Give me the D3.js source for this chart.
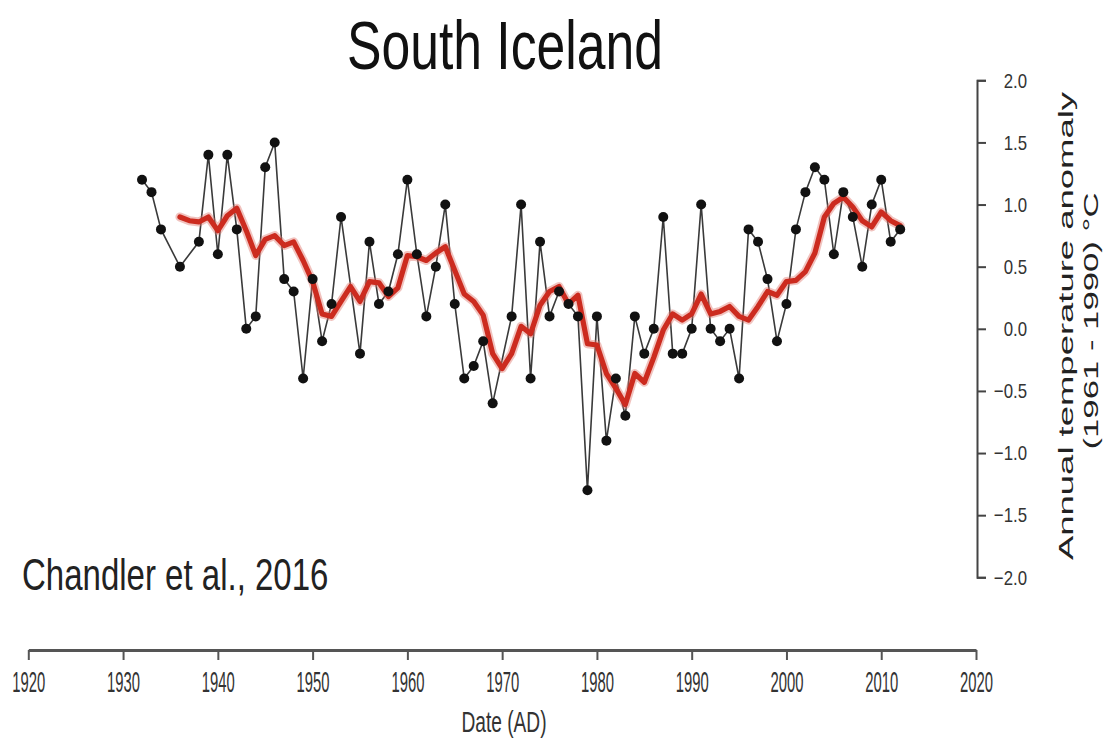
<!DOCTYPE html>
<html><head><meta charset="utf-8">
<script src="https://cdn.jsdelivr.net/npm/d3@7"></script>
<style>body{margin:0;background:#fff}svg{display:block}</style>
</head><body>
<script>
// Annual observations (years with data)
const years = [1932,1933,1934,1936,1938,1939,1940,1941,1942,1943,1944,1945,1946,1947,1948,1949,1950,1951,1952,1953,
  1955,1956,1957,1958,1959,1960,1961,1962,1963,1964,1965,1966,1967,1968,1969,1971,1972,1973,1974,1975,1976,1977,1978,
  1979,1980,1981,1982,1983,1984,1985,1986,1987,1988,1989,1990,1991,1992,1993,1994,1995,1996,1997,1998,1999,2000,
  2001,2002,2003,2004,2005,2006,2007,2008,2009,2010,2011,2012];
const anomalies = [1.2,1.1,0.8,0.5,0.7,1.4,0.6,1.4,0.8,0.0,0.1,1.3,1.5,0.4,0.3,-0.4,0.4,-0.1,0.2,0.9,
  -0.2,0.7,0.2,0.3,0.6,1.2,0.6,0.1,0.5,1.0,0.2,-0.4,-0.3,-0.1,-0.6,0.1,1.0,-0.4,0.7,0.1,0.3,0.2,0.1,
  -1.3,0.1,-0.9,-0.4,-0.7,0.1,-0.2,0.0,0.9,-0.2,-0.2,0.0,1.0,0.0,-0.1,0.0,-0.4,0.8,0.7,0.4,-0.1,0.2,
  0.8,1.1,1.3,1.2,0.6,1.1,0.9,0.5,1.0,1.2,0.7,0.8];
// Running mean (red line)
const meanYears = d3.range(1936, 2013);
const meanValues = [0.90,0.87,0.86,0.90,0.79,0.91,0.97,0.79,0.59,0.72,0.75,0.67,0.70,0.55,0.38,0.12,0.10,0.22,0.34,0.22,
  0.38,0.37,0.26,0.33,0.59,0.58,0.55,0.61,0.66,0.47,0.28,0.22,0.11,-0.20,-0.32,-0.20,0.02,-0.04,0.19,0.30,
  0.34,0.20,0.27,-0.12,-0.13,-0.36,-0.48,-0.61,-0.36,-0.43,-0.23,-0.01,0.12,0.07,0.12,0.28,0.12,0.14,0.18,0.10,
  0.07,0.18,0.30,0.27,0.38,0.39,0.46,0.61,0.90,1.01,1.06,0.98,0.87,0.82,0.94,0.87,0.83];
const xTicks = [1920,1930,1940,1950,1960,1970,1980,1990,2000,2010,2020];
const yTicks = [-2.0,-1.5,-1.0,-0.5,0.0,0.5,1.0,1.5,2.0];
const titleText = "South Iceland";
const sourceText = "Chandler et al., 2016";
const xTitle = "Date (AD)";
const yTitle1 = "Annual temperature anomaly";
const yTitle2 = "(1961 - 1990) °C";

const W = 1110, H = 743;
const svg = d3.select("body").append("svg").attr("width", W).attr("height", H)
  .style("font-family", "'Liberation Sans', Arial, sans-serif");

const x = d3.scaleLinear().domain([1920, 2020]).range([28.3, 976]);
const y = d3.scaleLinear().domain([-2, 2]).range([577.3, 80.3]);

function squeeze(sel, f) {
  sel.each(function() {
    const L = this.getComputedTextLength();
    d3.select(this).attr("textLength", L * f).attr("lengthAdjust", "spacingAndGlyphs");
  });
}

// X axis
const xa = svg.append("g").attr("transform", "translate(0,650)")
  .call(d3.axisBottom(x).tickValues(xTicks).tickFormat(d3.format("d")).tickSize(10).tickSizeOuter(0).tickPadding(10));
xa.select(".domain").attr("stroke", "#555").attr("stroke-width", 3);
xa.selectAll(".tick line").attr("stroke", "#555").attr("stroke-width", 2);
xa.selectAll(".tick text").attr("fill", "#333").style("font-size", "30px").attr("dy", "0.72em")
  .attr("textLength", 33).attr("lengthAdjust", "spacingAndGlyphs");

// Y axis (right side)
const ya = svg.append("g").attr("transform", "translate(977,0)")
  .call(d3.axisRight(y).tickValues(yTicks).tickFormat(d3.format(".1f")).tickSize(9).tickSizeOuter(9).tickPadding(0));
ya.select(".domain").attr("stroke", "#444").attr("stroke-width", 2);
ya.selectAll(".tick line").attr("stroke", "#444").attr("stroke-width", 2);
ya.selectAll(".tick text").attr("fill", "#333").style("font-size", "21px")
  .attr("text-anchor", "end").attr("x", 50).call(squeeze, 0.8);

// Black observation line
const line = d3.line().x((d, i) => x(years[i])).y(d => y(d));
svg.append("path").datum(anomalies).attr("d", line)
  .attr("fill", "none").attr("stroke", "#3a3a3a").attr("stroke-width", 1.6);

// Red running mean
const mline = d3.line().x((d, i) => x(meanYears[i])).y(d => y(d)).curve(d3.curveLinear);
svg.append("path").datum(meanValues).attr("d", mline)
  .attr("fill", "none").attr("stroke", "#e07a72").attr("stroke-opacity", 0.45)
  .attr("stroke-width", 9).attr("stroke-linejoin", "round").attr("stroke-linecap", "round");
svg.append("path").datum(meanValues).attr("d", mline)
  .attr("fill", "none").attr("stroke", "#cc2b1f")
  .attr("stroke-width", 5.2).attr("stroke-linejoin", "round").attr("stroke-linecap", "round");

// Points
svg.append("g").selectAll("circle").data(anomalies).join("circle")
  .attr("cx", (d, i) => x(years[i])).attr("cy", d => y(d)).attr("r", 5).attr("fill", "#111");

// Title
svg.append("text").attr("x", 505).attr("y", 69).attr("text-anchor", "middle")
  .style("font-size", "68px").attr("fill", "#111").text(titleText).call(squeeze, 0.76);

// Source
svg.append("text").attr("x", 22).attr("y", 590)
  .style("font-size", "44px").attr("fill", "#222").text(sourceText).call(squeeze, 0.75);

// X title
svg.append("text").attr("x", 504).attr("y", 732).attr("text-anchor", "middle")
  .style("font-size", "29px").attr("fill", "#333").text(xTitle).call(squeeze, 0.66);

// Y title (rotated, compressed horizontally)
const yt1 = svg.append("g").attr("transform", "translate(1073,326) scale(0.75,1) rotate(-90)");
yt1.append("text").attr("text-anchor", "middle").style("font-size", "27px").attr("fill", "#222")
  .text(yTitle1).attr("textLength", 468).attr("lengthAdjust", "spacingAndGlyphs");
const yt2 = svg.append("g").attr("transform", "translate(1098,321) scale(0.75,1) rotate(-90)");
yt2.append("text").attr("text-anchor", "middle").style("font-size", "27px").attr("fill", "#222")
  .text(yTitle2).attr("textLength", 257).attr("lengthAdjust", "spacingAndGlyphs");
</script>
</body></html>
